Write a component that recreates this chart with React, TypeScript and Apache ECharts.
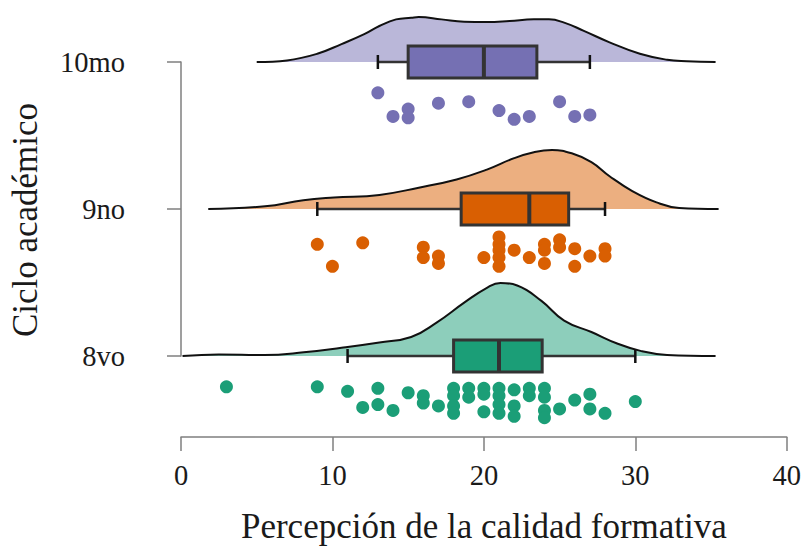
import React, { useEffect, useRef } from 'react';
import * as echarts from 'echarts';

const categories = ['8vo', '9no', '10mo'];
const xTicks = [0, 10, 20, 30, 40];
const fills = ['#8dcebb', '#ecaf80', '#bab7d9'];
const colors = ['#1b9e77', '#d95f02', '#7570b3'];
const xTitle = 'Percepción de la calidad formativa';
const yTitle = 'Ciclo académico';

// box statistics: [lower whisker, Q1, median, Q3, upper whisker]
const box8vo = [11, 18, 21, 23.85, 30];
const box9no = [9, 18.5, 23, 25.6, 28];
const box10mo = [13, 15, 20, 23.5, 27];

// raw scores (x) and vertical jitter below the category line (in category units)
const x8vo = [3, 9, 11, 12, 13, 13, 14, 15, 16, 16, 17, 18, 18, 18, 18, 19, 19, 20, 20, 20, 21, 21, 21, 21, 22, 22, 22, 23, 23, 24, 24, 24, 24, 25, 26, 27, 27, 28, 30];
const jit8vo = [0.21, 0.21, 0.24, 0.35, 0.22, 0.33, 0.37, 0.25, 0.27, 0.32, 0.34, 0.22, 0.27, 0.34, 0.39, 0.22, 0.28, 0.22, 0.26, 0.38, 0.22, 0.27, 0.33, 0.39, 0.23, 0.34, 0.41, 0.22, 0.27, 0.22, 0.28, 0.37, 0.42, 0.36, 0.30, 0.26, 0.36, 0.39, 0.31];
const x9no = [9, 10, 12, 16, 16, 17, 17, 20, 21, 21, 21, 21, 21, 22, 23, 24, 24, 24, 25, 25, 26, 26, 27, 28, 28];
const jit9no = [0.24, 0.39, 0.23, 0.26, 0.33, 0.32, 0.37, 0.33, 0.19, 0.24, 0.28, 0.33, 0.39, 0.28, 0.33, 0.24, 0.28, 0.37, 0.21, 0.26, 0.27, 0.39, 0.32, 0.27, 0.32];
const x10mo = [13, 14, 15, 15, 17, 19, 21, 22, 23, 25, 26, 27];
const jit10mo = [0.21, 0.37, 0.32, 0.38, 0.28, 0.27, 0.33, 0.39, 0.37, 0.27, 0.37, 0.36];

// half-violin (density) outline: x positions and heights (category units)
const densX8vo = [0.1, 2.5, 5.5, 8.1, 10.6, 13.1, 15.2, 16.9, 18.7, 20.2, 21.1, 22.2, 23.8, 25.3, 27.1, 28.8, 30.4, 32.1, 35.3];
const densH8vo = [0, 0.011, 0.007, 0.025, 0.056, 0.092, 0.129, 0.229, 0.363, 0.464, 0.497, 0.48, 0.375, 0.241, 0.163, 0.085, 0.033, 0.007, 0];
const densX9no = [1.8, 5.55, 8.08, 10.1, 13.1, 15.7, 18.2, 20.2, 22.0, 23.3, 24.5, 25.8, 27.1, 28.3, 29.8, 31.4, 32.9, 35.5];
const densH9no = [0, 0.018, 0.06, 0.078, 0.096, 0.145, 0.201, 0.268, 0.346, 0.386, 0.401, 0.379, 0.319, 0.223, 0.122, 0.045, 0.007, 0];
const densX10mo = [5, 7, 9, 10.6, 12.1, 13.1, 14.2, 15.2, 15.7, 17.2, 18.7, 20.2, 21.7, 23.3, 24.3, 25.3, 26.6, 28.3, 30.3, 32.1, 33.4, 35.3];
const densH10mo = [0, 0.011, 0.056, 0.122, 0.189, 0.245, 0.29, 0.301, 0.306, 0.29, 0.274, 0.272, 0.279, 0.29, 0.29, 0.268, 0.212, 0.134, 0.056, 0.015, 0.005, 0];

const FONT = 'Liberation Serif';
const TEXT = '#1a1a1a';
const AXIS = '#7f7f7f';

export default function App() {
  const ref = useRef<HTMLDivElement>(null);
  useEffect(() => {
    if (!ref.current) return;
    const chart = echarts.init(ref.current, null, { renderer: 'svg' });
    const groups = [
      { base: 1, box: box8vo, xs: x8vo, jit: jit8vo, dx: densX8vo, dh: densH8vo },
      { base: 2, box: box9no, xs: x9no, jit: jit9no, dx: densX9no, dh: densH9no },
      { base: 3, box: box10mo, xs: x10mo, jit: jit10mo, dx: densX10mo, dh: densH10mo },
    ];
    const series: any[] = [];
    groups.forEach((g, i) => {
      series.push({
        type: 'line',
        name: categories[i] + ' densidad',
        data: g.dx.map((x, k) => [x, g.base + g.dh[k]]),
        smooth: 0.45,
        showSymbol: false,
        clip: false,
        lineStyle: { color: '#111', width: 2 },
        areaStyle: { color: fills[i], opacity: 1, origin: g.base },
        z: 2,
        silent: true,
      });
    });
    series.push({
      type: 'custom',
      name: 'boxes',
      clip: false,
      z: 3,
      data: groups.map((g) => [g.base, ...g.box]),
      renderItem: (params: any, api: any) => {
        const y = api.value(0);
        const lo = api.coord([api.value(1), y]);
        const q1 = api.coord([api.value(2), y]);
        const md = api.coord([api.value(3), y]);
        const q3 = api.coord([api.value(4), y]);
        const hi = api.coord([api.value(5), y]);
        const hh = 16;
        const c = colors[params.dataIndex];
        const stroke = '#333333';
        return {
          type: 'group',
          children: [
            { type: 'line', shape: { x1: lo[0], y1: lo[1], x2: q1[0], y2: q1[1] }, style: { stroke, lineWidth: 2.5 } },
            { type: 'line', shape: { x1: q3[0], y1: q3[1], x2: hi[0], y2: hi[1] }, style: { stroke, lineWidth: 2.5 } },
            { type: 'line', shape: { x1: lo[0], y1: lo[1] - 7, x2: lo[0], y2: lo[1] + 7 }, style: { stroke: '#111', lineWidth: 2.5 } },
            { type: 'line', shape: { x1: hi[0], y1: hi[1] - 7, x2: hi[0], y2: hi[1] + 7 }, style: { stroke: '#111', lineWidth: 2.5 } },
            { type: 'rect', shape: { x: q1[0], y: q1[1] - hh, width: q3[0] - q1[0], height: hh * 2 }, style: { fill: c, stroke, lineWidth: 3 } },
            { type: 'line', shape: { x1: md[0], y1: md[1] - hh, x2: md[0], y2: md[1] + hh }, style: { stroke, lineWidth: 4 } },
          ],
        };
      },
    });
    groups.forEach((g, i) => {
      series.push({
        type: 'scatter',
        name: categories[i],
        data: g.xs.map((x, k) => [x, g.base - g.jit[k]]),
        symbolSize: 13,
        clip: false,
        itemStyle: { color: colors[i], opacity: 1 },
        z: 4,
        silent: true,
      });
    });

    chart.setOption({
      animation: false,
      backgroundColor: '#ffffff',
      grid: { left: 181, right: 15, top: 62, bottom: 188, containLabel: false },
      graphic: [
        {
          type: 'text',
          x: 25,
          y: 220,
          rotation: Math.PI / 2,
          style: {
            text: yTitle,
            fontFamily: FONT,
            fontSize: 35,
            fill: TEXT,
            textAlign: 'center',
            textVerticalAlign: 'middle',
          },
        },
      ],
      xAxis: {
        type: 'value',
        min: xTicks[0],
        max: xTicks[xTicks.length - 1],
        interval: 10,
        offset: 81,
        name: xTitle,
        nameLocation: 'middle',
        nameGap: 72,
        nameTextStyle: { fontFamily: FONT, fontSize: 35, color: TEXT },
        axisLine: { show: true, lineStyle: { color: AXIS, width: 1.5 } },
        axisTick: { show: true, length: 14, lineStyle: { color: AXIS, width: 1.5 } },
        axisLabel: { fontFamily: FONT, fontSize: 28.5, color: TEXT, margin: 24 },
        splitLine: { show: false },
      },
      yAxis: {
        type: 'value',
        min: 1,
        max: 3,
        interval: 1,
        offset: 29,
        axisLine: { show: true, lineStyle: { color: AXIS, width: 1.5 } },
        axisTick: { show: true, length: 14, lineStyle: { color: AXIS, width: 1.5 } },
        axisLabel: {
          fontFamily: FONT,
          fontSize: 28.5,
          color: TEXT,
          margin: 27,
          formatter: (v: number) => categories[Math.round(v) - 1] ?? '',
        },
        splitLine: { show: false },
      },
      series,
    });
    return () => chart.dispose();
  }, []);
  return (
    <div
      ref={ref}
      style={{ position: 'fixed', left: 0, top: 0, width: 804, height: 549, background: '#fff' }}
    />
  );
}
